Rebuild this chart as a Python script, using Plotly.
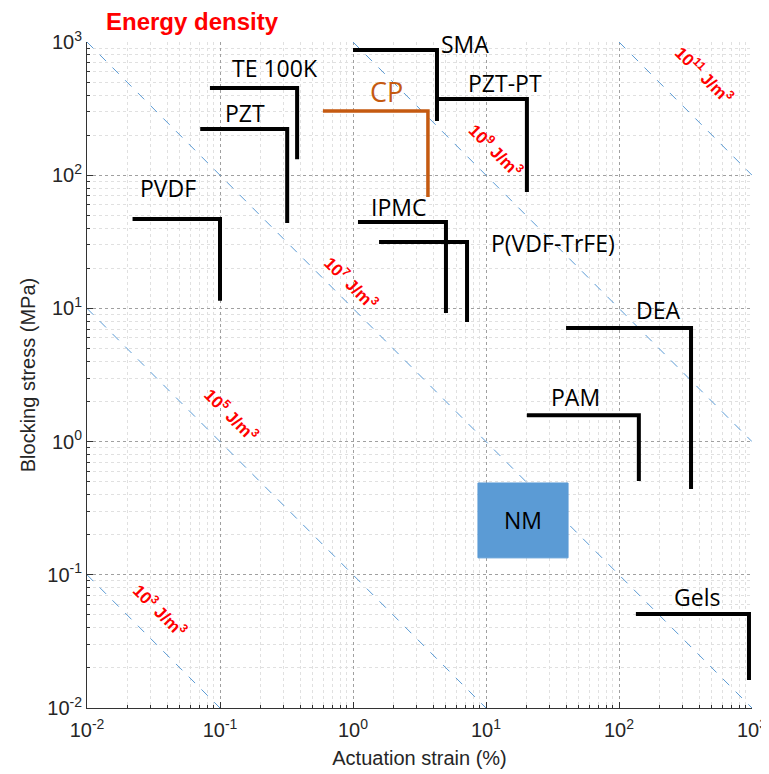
import math
import plotly.graph_objects as go

# actuator envelopes: strain range (%) and stress range (MPa)
names = ["PVDF", "PZT", "TE 100K", "SMA", "PZT-PT", "IPMC", "P(VDF-TrFE)", "DEA", "PAM", "Gels"]
strain_min = [0.022, 0.071, 0.084, 1.0, 4.35, 1.09, 1.57, 40, 20.3, 134]
strain_max = [0.1, 0.32, 0.38, 4.28, 20.3, 5.0, 7.2, 348, 141, 949]
stress_max = [46.9, 222, 452, 871, 373, 44.6, 31.5, 7.13, 1.58, 0.0508]
stress_min = [11.4, 43.7, 132, 255, 74.8, 9.23, 7.9, 0.44, 0.506, 0.0162]
label_x = [0.0406, 0.154, 0.26, 6.95, 13.9, 2.18, 31.9, 196, 46.7, 386]
label_y = [80, 293, 638, 966, 492, 57.7, 31, 9.7, 2.16, 0.068]

# conducting polymer (orange)
cp_strain = [0.594, 3.66]
cp_stress = [303, 68.6]
cp_label = (1.8, 422)

# natural muscle box
nm_strain = [8.7, 41.4]
nm_stress = [0.134, 0.489]

# energy density reference lines
energy_levels = [1e3, 1e5, 1e7, 1e9, 1e11]
energy_exp = [3, 5, 7, 9, 11]
energy_label_x = [0.0354, 0.123, 0.98, 11.9, 443]
energy_label_y = [0.0544, 1.58, 15.5, 155, 565]

tick_vals = [1e-2, 1e-1, 1e0, 1e1, 1e2, 1e3]
tick_text = ["10<sup>-2</sup>", "10<sup>-1</sup>", "10<sup>0</sup>",
             "10<sup>1</sup>", "10<sup>2</sup>", "10<sup>3</sup>"]

lg = math.log10  # annotations on log axes take log10 positions

fig = go.Figure()

blue = "rgb(91,155,213)"
for E in energy_levels:
    k = E / 1e6
    xs = [max(1e-2, k / 1e3), min(1e3, k / 1e-2)]
    fig.add_trace(go.Scatter(x=xs, y=[k / v for v in xs], mode="lines",
                             line=dict(color=blue, width=1, dash="dash"),
                             hoverinfo="skip", showlegend=False))

for i, n in enumerate(names):
    fig.add_trace(go.Scatter(
        x=[strain_min[i], strain_max[i], strain_max[i]],
        y=[stress_max[i], stress_max[i], stress_min[i]],
        mode="lines", line=dict(color="black", width=4), name=n, showlegend=False))
    fig.add_annotation(x=lg(label_x[i]), y=lg(label_y[i]), xref="x", yref="y", text=n,
                       showarrow=False, font=dict(family="Open Sans", size=23, color="black"))

fig.add_trace(go.Scatter(
    x=[cp_strain[0], cp_strain[1], cp_strain[1]],
    y=[cp_stress[0], cp_stress[0], cp_stress[1]],
    mode="lines", line=dict(color="rgb(197,90,17)", width=3.5), name="CP", showlegend=False))
fig.add_annotation(x=lg(cp_label[0]), y=lg(cp_label[1]), text="CP", showarrow=False,
                   font=dict(family="Open Sans", size=27, color="rgb(197,90,17)"))

fig.add_trace(go.Scatter(
    x=[nm_strain[0], nm_strain[1], nm_strain[1], nm_strain[0], nm_strain[0]],
    y=[nm_stress[0], nm_stress[0], nm_stress[1], nm_stress[1], nm_stress[0]],
    mode="lines", fill="toself", fillcolor="rgb(91,155,213)",
    line=dict(color="rgb(91,155,213)", width=1), name="NM", showlegend=False))
fig.add_annotation(x=(lg(nm_strain[0]) + lg(nm_strain[1])) / 2,
                   y=(lg(nm_stress[0]) + lg(nm_stress[1])) / 2,
                   text="NM", showarrow=False,
                   font=dict(family="Open Sans", size=23, color="black"))

for i, e in enumerate(energy_exp):
    fig.add_annotation(x=lg(energy_label_x[i]), y=lg(energy_label_y[i]),
                       text="<b>10<sup>%d</sup> J/m<sup>3</sup></b>" % e,
                       showarrow=False, textangle=45,
                       font=dict(family="Liberation Sans", size=17, color="red"))

fig.add_annotation(xref="paper", yref="paper", x=0.0256, y=1.0315,
                   xanchor="left", yanchor="middle", showarrow=False,
                   text="<b>Energy density</b>",
                   font=dict(family="Liberation Sans", size=24, color="red"))

axis_common = dict(
    type="log", range=[-2, 3], tickvals=tick_vals, ticktext=tick_text, automargin=False,
    ticks="inside", ticklen=6, tickcolor="#333", showline=True, linecolor="#333",
    linewidth=1, showgrid=True, gridcolor="#a0a0a0", griddash="dot", gridwidth=1,
    zeroline=False, tickfont=dict(family="Liberation Sans", size=20, color="#262626"),
    minor=dict(dtick="D1", ticks="inside", ticklen=3, tickcolor="#333",
               showgrid=True, gridcolor="#e0e0e0", griddash="dot", gridwidth=1),
)

# the page body adds an 8px offset, so the figure is sized to fit around it
fig.update_layout(
    width=761, height=766,
    margin=dict(l=79, r=17, t=34, b=66),
    plot_bgcolor="white", paper_bgcolor="white",
    xaxis=dict(axis_common, ticklabelstandoff=4,
               title=dict(text="Actuation strain (%)", standoff=10,
                          font=dict(family="Liberation Sans", size=20, color="#262626"))),
    yaxis=dict(axis_common,
               title=dict(text="Blocking stress (MPa)", standoff=6,
                          font=dict(family="Liberation Sans", size=20, color="#262626"))),
)

fig.write_html("out.html")
